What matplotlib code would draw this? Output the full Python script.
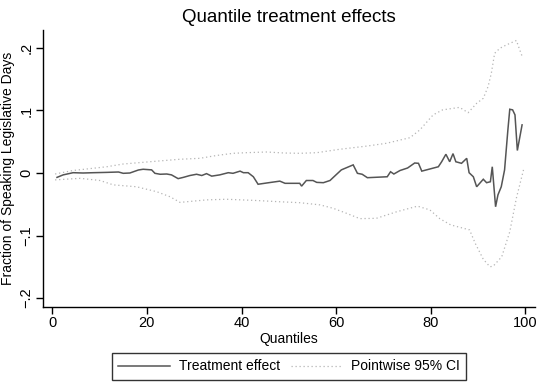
import matplotlib
matplotlib.use("Agg")
import matplotlib.pyplot as plt
from matplotlib.lines import Line2D

plt.rcParams['font.family'] = ['Liberation Sans', 'DejaVu Sans']

# Quantile treatment effect (solid line)
effect_q = [1, 2.3, 4.4, 6.5, 8.7, 11.5, 14, 15, 16.4, 18.2, 19.2, 21, 21.7, 22.8,
            24.2, 25.2, 26.6, 27.7, 29.1, 30.5, 31.6, 32.6, 33.7, 35.4, 37.2, 38.2,
            39.7, 40.4, 41.4, 42.5, 43.5, 45.3, 48.1, 49.2, 52.3, 52.7, 53.7, 55.1,
            55.9, 57.3, 58.7, 59.4, 61.1, 63.6, 64.5, 65.5, 66.6, 70.8, 71.5, 72.2,
            73.5, 75.1, 76.6, 77.4, 78.1, 79.1, 81.6, 82.3, 83.2, 84.0, 84.7, 85.3,
            86.5, 87.6, 88.1, 89.0, 89.7, 91.1, 91.8, 92.6, 93.0, 93.7, 94.2, 94.9,
            95.6, 96.3, 96.7, 97.3, 97.8, 98.3, 99.3]
effect = [-0.007, -0.003, 0.0005, 0.0, 0.0005, 0.001, 0.0016, -0.0005, 0.0, 0.0048,
          0.006, 0.005, -0.0005, -0.002, -0.0016, -0.003, -0.009, -0.007, -0.004,
          -0.002, -0.004, -0.001, -0.005, -0.003, 0.0005, -0.0005, 0.003, 0.0005,
          0.0005, -0.006, -0.018, -0.016, -0.013, -0.0165, -0.0165, -0.021, -0.012,
          -0.012, -0.015, -0.0155, -0.012, -0.007, 0.005, 0.013, -0.0005, -0.002,
          -0.0075, -0.006, 0.002, -0.0016, 0.004, 0.008, 0.016, 0.0155, 0.003, 0.005,
          0.010, 0.018, 0.030, 0.018, 0.031, 0.018, 0.0155, 0.0235, 0.0005, -0.006,
          -0.022, -0.010, -0.0155, -0.014, 0.010, -0.054, -0.035, -0.022, 0.005,
          0.069, 0.102, 0.101, 0.093, 0.036, 0.077]

# Pointwise 95% confidence band (dotted lines)
upper_q = [0.6, 4.4, 11.5, 15, 20.6, 27, 31.2, 34.7, 38.2, 41, 45.3, 49, 52.3, 55.9,
           60.8, 66.4, 70.6, 75.6, 77.7, 80.5, 82.5, 86.1, 87.9, 89.7, 91.1, 92.1,
           92.8, 93.5, 94.6, 96.0, 98.1, 98.8, 99.3]
upper = [-0.0016, 0.004, 0.010, 0.0144, 0.018, 0.022, 0.0235, 0.028, 0.0315, 0.0325,
         0.0336, 0.032, 0.0315, 0.0325, 0.038, 0.043, 0.0475, 0.0565, 0.069, 0.093,
         0.101, 0.105, 0.0965, 0.1115, 0.1195, 0.138, 0.1595, 0.1915, 0.1995, 0.205,
         0.212, 0.197, 0.187]
lower_q = [0.6, 5.9, 10.1, 12.9, 17.8, 22.1, 24.9, 27, 32.6, 36.8, 43.2, 48.1, 52.3,
           56.6, 59.4, 62.2, 65, 68.5, 72.8, 77.2, 79.8, 81.9, 84.2, 88.2, 89.4, 91.1,
           92.5, 93.2, 95.0, 96.7, 98.1, 99.6]
lower = [-0.011, -0.0085, -0.012, -0.019, -0.022, -0.030, -0.038, -0.047, -0.043,
         -0.042, -0.044, -0.046, -0.0475, -0.051, -0.0565, -0.0645, -0.073, -0.0725,
         -0.062, -0.053, -0.059, -0.073, -0.083, -0.091, -0.1125, -0.138, -0.150,
         -0.149, -0.134, -0.094, -0.040, 0.005]

xticks = [0, 20, 40, 60, 80, 100]
yticks = [-0.2, -0.1, 0.0, 0.1, 0.2]
ytick_labels = ['\u2212.2', '\u2212.1', '0', '.1', '.2']

fig = plt.figure(figsize=(5.37, 3.83), dpi=100)
ax = fig.add_axes([0.0806, 0.1992, 0.9154, 0.7225])

ax.plot(effect_q, effect, color='#555555', lw=1.1, solid_joinstyle='miter')
ax.plot(upper_q, upper, color='#b5b5b5', lw=0.9, linestyle=(0, (1, 2.2)))
ax.plot(lower_q, lower, color='#b5b5b5', lw=0.9, linestyle=(0, (1, 2.2)))

ax.set_xlim(-1.9, 102)
ax.set_ylim(-0.2139, 0.2288)
ax.set_xticks(xticks)
ax.set_xticklabels([str(t) for t in xticks])
ax.set_yticks(yticks)
ax.set_yticklabels(ytick_labels, rotation=90, va='center')

for s in ['top', 'right']:
    ax.spines[s].set_visible(False)
for s in ['left', 'bottom']:
    ax.spines[s].set_linewidth(1.0)
    ax.spines[s].set_color('black')
ax.tick_params(axis='both', direction='out', length=5, width=1.0, labelsize=10.5,
               colors='black', pad=2)

ax.set_xlabel('Quantiles', fontsize=10, labelpad=1)
ax.set_ylabel('Fraction of Speaking Legislative Days', fontsize=10, labelpad=3)
ax.set_title('Quantile treatment effects', fontsize=13.5, pad=6)

handles = [Line2D([], [], color='#555555', lw=1.1),
           Line2D([], [], color='#b5b5b5', lw=0.9, linestyle=(0, (1, 2.2)))]
leg = fig.legend(handles, ['Treatment effect', 'Pointwise 95% CI'], ncol=2,
                 loc='center left', bbox_to_anchor=(112 / 537, 1 - 366.5 / 383),
                 borderaxespad=0, frameon=True, fancybox=False, edgecolor='black',
                 fontsize=10, handlelength=3.7, columnspacing=0.8,
                 handletextpad=0.65, borderpad=0.45)
leg.get_frame().set_linewidth(1.0)

fig.savefig('out.png', dpi=100, facecolor='white')
